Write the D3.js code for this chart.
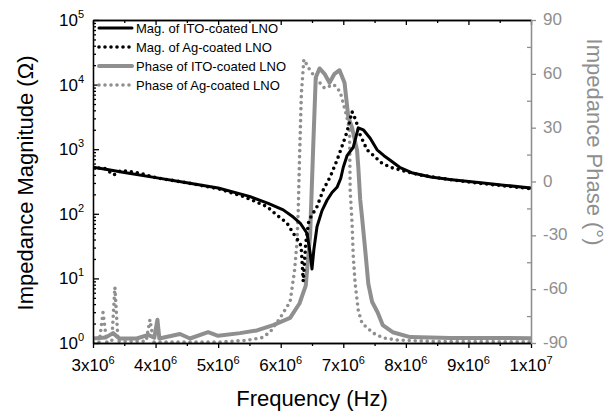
<!DOCTYPE html>
<html>
<head>
<meta charset="utf-8">
<script src="https://cdn.jsdelivr.net/npm/d3@7"></script>
<style>
  body { margin: 0; background: #fff; }
  svg { font-family: "Liberation Sans", Arial, sans-serif; }
</style>
</head>
<body>
<svg width="610" height="415"></svg>
<script>
// frequency in MHz, magnitude in ohm, phase in degrees
let itoMagF = [3.0, 3.25, 3.5, 4.0, 4.5, 5.0, 5.5, 5.8, 6.04, 6.2, 6.31, 6.42, 6.47, 6.5, 6.53, 6.58, 6.66, 6.74, 6.82, 6.9, 6.96, 7.0, 7.06, 7.16, 7.24, 7.32, 7.43, 7.54, 7.65, 7.75, 7.9, 8.11, 8.4, 8.7, 9.2, 9.6, 10];
let itoMag = [525, 479, 437, 363, 302, 251, 186, 145, 115, 89, 72, 50, 25, 14, 28, 63, 112, 162, 214, 257, 355, 525, 794, 1072, 2138, 1995, 1479, 977, 794, 676, 525, 427, 372, 339, 302, 275, 251];

let agMagF = [3.0, 3.2, 3.33, 3.45, 3.75, 4.0, 4.5, 5.0, 5.4, 5.62, 5.78, 5.94, 6.1, 6.2, 6.31, 6.33, 6.36, 6.4, 6.45, 6.58, 6.68, 6.79, 6.9, 7.0, 7.06, 7.14, 7.2, 7.27, 7.38, 7.51, 7.59, 7.75, 8.02, 8.23, 8.7, 9.2, 10];
let agMag = [525, 500, 398, 468, 427, 363, 302, 245, 186, 151, 129, 95, 72, 50, 35, 28, 9, 35, 79, 129, 234, 372, 676, 1259, 1862, 3802, 2818, 1660, 977, 759, 631, 525, 447, 398, 339, 295, 245];

let itoPhF = [3.0, 3.2, 3.32, 3.42, 3.7, 3.88, 3.98, 4.03, 4.06, 4.39, 4.55, 4.84, 5.0, 5.35, 5.62, 5.88, 6.15, 6.3, 6.4, 6.47, 6.52, 6.56, 6.62, 6.7, 6.78, 6.86, 6.94, 7.02, 7.08, 7.14, 7.22, 7.24, 7.27, 7.3, 7.35, 7.4, 7.46, 7.55, 7.63, 7.79, 8.07, 8.71, 10];
let itoPh = [-87.5, -87, -84.5, -87.5, -87.5, -85.5, -87, -77, -87.5, -85, -87.5, -84, -86, -84.5, -83, -80, -76, -68, -58, -30, 20, 58, 63, 60, 55, 60, 62, 55, 36, 30, 17.5, 8, -10, -20, -38, -57, -67, -73, -80, -84, -86.7, -87.2, -87.3];

let agPhF = [3.0, 3.1, 3.16, 3.22, 3.3, 3.35, 3.4, 3.85, 3.91, 3.97, 5.0, 5.46, 5.7, 5.83, 6.0, 6.15, 6.22, 6.26, 6.28, 6.3, 6.33, 6.37, 6.45, 6.55, 6.7, 6.85, 6.95, 7.05, 7.1, 7.11, 7.14, 7.16, 7.19, 7.24, 7.3, 7.48, 7.64, 7.86, 8.5, 10];
let agPh = [-89.5, -89.5, -73, -89.5, -89, -59, -89, -89, -77, -89.5, -89.5, -88.5, -87, -84, -75.5, -67, -50, -34, -16, 12, 49, 68, 63, 58, 52, 54, 50, 37, 29, -5, -23, -42, -57, -72, -79, -84.5, -87.2, -88.3, -89.2, -89.3];

let freqTicks = [3, 4, 5, 6, 7, 8, 9, 10];
let magTicks = [0, 1, 2, 3, 4, 5];
let phaseTicks = [-90, -60, -30, 0, 30, 60, 90];
let legendLabels = ['Mag. of ITO-coated LNO', 'Mag. of Ag-coated LNO', 'Phase of ITO-coated LNO', 'Phase of Ag-coated LNO'];

let gray = '#8f8f8f';
let svg = d3.select('svg');

let x = d3.scaleLinear().domain([3e6, 1e7]).range([93, 531]);
let yMag = d3.scaleLog().domain([1, 1e5]).range([343, 20]);
let yPh = d3.scaleLinear().domain([-90, 90]).range([343, 20]);

function zip(fs, vs){
  return fs.map((f, i) => [f * 1e6, vs[i]]);
}

svg.append('clipPath').attr('id', 'plotclip')
  .append('rect').attr('x', 93).attr('y', 20).attr('width', 438).attr('height', 323);

let plot = svg.append('g').attr('clip-path', 'url(#plotclip)');

let magLine = d3.line().x(d => x(d[0])).y(d => yMag(d[1]));
let phLine = d3.line().x(d => x(d[0])).y(d => yPh(d[1]));

let series = [
  {data: zip(itoPhF, itoPh), line: phLine, color: gray, w: 4, dash: null},
  {data: zip(agPhF, agPh), line: phLine, color: gray, w: 3.6, dash: '0 6'},
  {data: zip(itoMagF, itoMag), line: magLine, color: '#000', w: 3, dash: null},
  {data: zip(agMagF, agMag), line: magLine, color: '#000', w: 3.6, dash: '0 6'}
];

series.forEach(s => {
  plot.append('path')
    .attr('d', s.line(s.data))
    .style('fill', 'none')
    .style('stroke', s.color)
    .style('stroke-width', s.w)
    .style('stroke-linecap', 'round')
    .style('stroke-linejoin', 'round')
    .style('stroke-dasharray', s.dash);
});

// axes
function styleAxis(g, color){
  g.selectAll('path, line').style('stroke', color).style('stroke-width', 1.3);
  g.selectAll('text').remove();
}

let minorF = d3.range(3.5e6, 1e7, 1e6);
let majorF = freqTicks.map(d => d * 1e6);

svg.append('g').attr('transform', 'translate(0,343)')
  .call(d3.axisBottom(x).tickValues(majorF).tickSize(5).tickSizeOuter(0))
  .call(styleAxis, '#000');
svg.append('g').attr('transform', 'translate(0,343)')
  .call(d3.axisBottom(x).tickValues(minorF).tickSize(3).tickSizeOuter(0))
  .call(styleAxis, '#000');
svg.append('g').attr('transform', 'translate(0,20)')
  .call(d3.axisTop(x).tickValues(majorF).tickSize(-5).tickSizeOuter(0))
  .call(styleAxis, '#000');
svg.append('g').attr('transform', 'translate(0,20)')
  .call(d3.axisTop(x).tickValues(minorF).tickSize(-3).tickSizeOuter(0))
  .call(styleAxis, '#000');

let minorMag = [];
for (let k = 0; k < 5; k++) for (let m = 2; m < 10; m++) minorMag.push(m * Math.pow(10, k));

svg.append('g').attr('transform', 'translate(93,0)')
  .call(d3.axisLeft(yMag).tickValues(magTicks.map(k => Math.pow(10, k))).tickSize(-6).tickSizeOuter(0))
  .call(styleAxis, '#000');
svg.append('g').attr('transform', 'translate(93,0)')
  .call(d3.axisLeft(yMag).tickValues(minorMag).tickSize(-3).tickSizeOuter(0))
  .call(styleAxis, '#000');

svg.append('g').attr('transform', 'translate(531,0)')
  .call(d3.axisRight(yPh).tickValues(phaseTicks).tickSize(5).tickSizeOuter(0))
  .call(styleAxis, gray);
svg.append('g').attr('transform', 'translate(531,0)')
  .call(d3.axisRight(yPh).tickValues(d3.range(-75, 90, 30)).tickSize(-4).tickSizeOuter(0))
  .call(styleAxis, gray);

// tick labels
let magLab = svg.append('g').selectAll('text').data(magTicks).enter().append('text')
  .attr('x', 84).attr('y', d => yMag(Math.pow(10, d)) + 6)
  .attr('text-anchor', 'end')
  .style('font-size', '17px');
magLab.append('tspan').text('10');
magLab.append('tspan').attr('dy', -8).style('font-size', '11px').text(d => d);

let fLab = svg.append('g').selectAll('text').data(freqTicks).enter().append('text')
  .attr('x', d => x(d * 1e6)).attr('y', 371)
  .attr('text-anchor', 'middle')
  .style('font-size', '17px');
fLab.append('tspan').text(d => d == 10 ? '1x10' : d + 'x10');
fLab.append('tspan').attr('dy', -7).style('font-size', '11px').text(d => d == 10 ? '7' : '6');

svg.append('g').selectAll('text').data(phaseTicks).enter().append('text')
  .attr('x', 543).attr('y', d => yPh(d) + 5)
  .style('font-size', '17px').style('fill', gray)
  .text(d => d);

// axis titles
svg.append('text').attr('transform', 'translate(33,183) rotate(-90)')
  .attr('text-anchor', 'middle').style('font-size', '22px')
  .text('Impedance Magnitude (Ω)');
svg.append('text').attr('transform', 'translate(587,142) rotate(90)')
  .attr('text-anchor', 'middle').style('font-size', '22px').style('fill', gray)
  .text('Impedance Phase (°)');
svg.append('text').attr('x', 312).attr('y', 406)
  .attr('text-anchor', 'middle').style('font-size', '22px')
  .text('Frequency (Hz)');

// legend
let legSeries = [series[2], series[3], series[0], series[1]];
let leg = svg.append('g').selectAll('g').data(legendLabels).enter().append('g')
  .attr('transform', (d, i) => `translate(0,${28 + i * 19})`);
leg.append('line')
  .attr('x1', 99).attr('x2', 132).attr('y1', 0).attr('y2', 0)
  .style('stroke', (d, i) => legSeries[i].color)
  .style('stroke-width', (d, i) => legSeries[i].w)
  .style('stroke-linecap', 'round')
  .style('stroke-dasharray', (d, i) => legSeries[i].dash);
leg.append('text').attr('x', 136).attr('y', 5)
  .style('font-size', '13px')
  .text(d => d);
</script>
</body>
</html>
